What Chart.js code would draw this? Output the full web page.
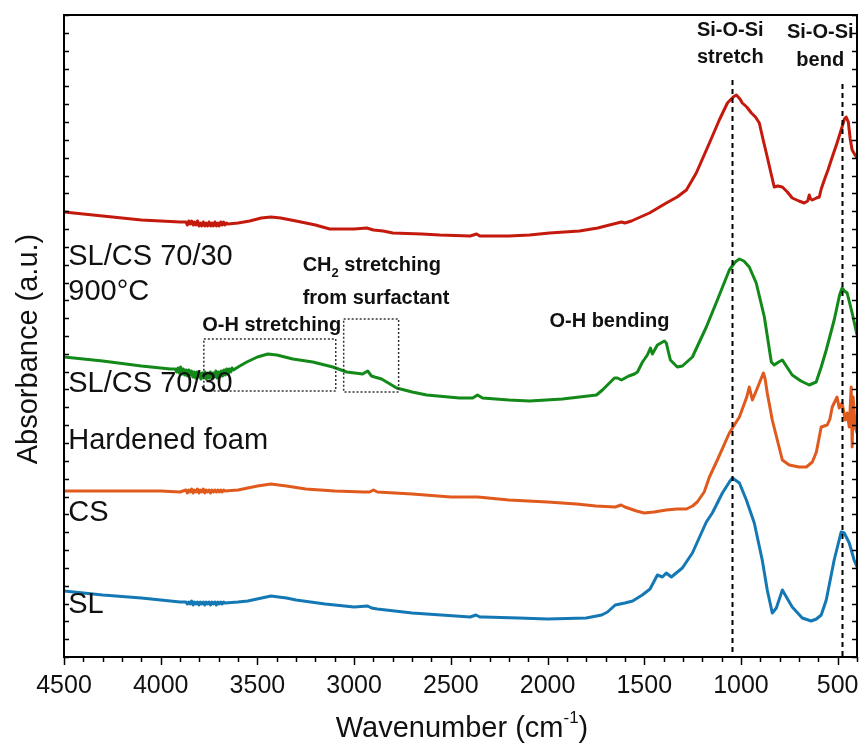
<!DOCTYPE html>
<html>
<head>
<meta charset="utf-8">
<script src="https://cdn.jsdelivr.net/npm/chart.js@4.4.1/dist/chart.umd.min.js"></script>
<style>
  html, body { margin: 0; padding: 0; background: #fff; }
  #wrap { width: 859px; height: 745px; }
</style>
</head>
<body>
<div id="wrap"><canvas id="ftir"></canvas></div>
<script>
// FTIR spectra, offset for display: [wavenumber cm-1, absorbance a.u.]
const sl900 = [
  [4500,445],[4300,441],[4100,437],[3900,435],
  [3870,435],[3862,432],[3855,436],[3848,433],[3840,436],[3832,432],[3825,435],[3818,432],
  [3810,436],[3802,431],[3795,434],[3788,431],[3780,435],[3772,431],[3765,434],[3758,431],
  [3750,435],[3742,431],[3735,434],[3728,431],[3720,435],[3712,431],[3705,434],[3698,431],
  [3690,435],[3682,432],[3675,435],[3668,432],[3660,434],[3652,433],
  [3600,434],[3540,436],[3480,439],[3430,440],[3380,439],[3300,436],[3200,432],[3126,428],
  [3000,428],[2935,429],[2900,427],[2850,426],[2800,424],[2650,423],[2558,422],[2400,421],
  [2367,423],[2350,421],[2200,421],[2093,422],[1990,424],[1835,426],[1740,429],[1680,432],
  [1618,435],[1600,434],[1566,436],[1520,440],[1473,444],[1386,454],[1330,460],[1282,467],
  [1231,484],[1163,514],[1112,537],[1070,554],[1040,560],[1024,562],[1005,558],[993,554],
  [970,550],[946,544],[925,540],[905,534],[885,517],[864,500],[845,484],[828,470],[810,471],
  [786,470],[760,465],[735,459],[700,456],[673,454],[655,456],[647,462],[640,458],[631,457],
  [610,459],[595,460],[585,468],[569,477],[550,487],[528,500],[505,513],[482,527],[465,538],
  [456,540],[445,535],[435,518],[425,507],[410,502],[400,499]
];
const foam = [
  [4500,300],[4300,296],[4100,291],[3950,288],
  [3925,288],[3918,285],[3911,289],[3904,284],[3897,290],[3890,283],[3883,288],[3876,282],
  [3869,287],[3862,281],[3855,287],[3848,282],[3841,286],[3834,280],[3827,285],[3820,279],
  [3813,285],[3806,280],[3799,284],[3792,278],[3785,284],[3778,279],[3771,285],[3764,278],
  [3757,284],[3750,279],[3743,285],[3736,279],[3729,284],[3722,280],[3715,286],[3708,279],
  [3701,285],[3694,280],[3687,286],[3680,281],[3673,287],[3666,282],[3659,288],[3652,283],
  [3645,288],[3638,285],[3631,289],[3624,287],
  [3600,290],[3555,295],[3500,300],[3446,303],[3400,302],[3317,298],[3214,295],[3110,290],
  [3038,285],[2956,283],[2930,286],[2910,281],[2894,280],[2858,278],[2780,269],[2700,265],
  [2625,262],[2455,259],[2387,259],[2362,262],[2336,259],[2200,257],[2093,256],[1923,258],
  [1747,262],[1716,267],[1654,279],[1639,279],[1618,277],[1580,281],[1551,283],[1535,285],
  [1509,295],[1484,302],[1468,309],[1458,303],[1432,312],[1396,316],[1386,314],[1365,297],
  [1329,290],[1303,291],[1251,300],[1179,330],[1122,357],[1060,387],[1030,395],[1008,398],
  [985,396],[957,390],[921,374],[879,340],[843,295],[828,292],[805,295],[786,297],[735,282],
  [690,276],[647,272],[611,275],[585,290],[559,307],[518,337],[490,362],[477,369],[465,366],
  [451,364],[425,344],[400,322]
];
const cs = [
  [4500,166],[4300,166],[4000,166],[3900,165],
  [3870,167],[3862,164],[3855,167],[3848,165],[3840,168],[3832,164],[3825,167],[3818,165],
  [3810,168],[3802,164],[3795,167],[3788,165],[3780,168],[3772,164],[3765,167],[3758,165],
  [3750,167],[3742,164],[3735,167],[3728,165],[3720,167],[3712,165],[3705,167],[3698,165],
  [3690,167],[3682,165],[3675,167],[3668,166],
  [3600,167],[3500,171],[3430,173],[3350,171],[3250,168],[3100,166],[2950,165],[2920,165],
  [2900,167],[2880,165],[2700,163],[2500,160],[2360,160],[2200,157],[2000,155],[1850,153],
  [1750,151],[1650,150],[1620,152],[1600,150],[1540,146],[1500,144],[1450,145],[1386,147],
  [1330,148],[1282,148],[1250,151],[1226,155],[1190,165],[1163,180],[1122,197],[1060,224],
  [1008,240],[970,260],[957,270],[941,257],[930,262],[915,269],[884,284],[875,278],[864,264],
  [838,237],[786,197],[750,192],[700,190],[662,190],[631,195],[610,205],[585,230],[554,232],
  [540,238],[528,250],[503,260],[492,249],[477,254],[461,237],[451,244],[440,230],[430,270],
  [425,210],[420,260],[415,247],[410,230],[400,224]
];
const sl = [
  [4500,66],[4300,62],[4100,59],[3900,55],
  [3870,55],[3862,53],[3855,55],[3848,53],[3840,56],[3832,52],[3825,55],[3818,53],[3810,55],
  [3802,52],[3795,55],[3788,53],[3780,55],[3772,52],[3765,55],[3758,53],[3750,55],[3742,52],
  [3735,55],[3728,53],[3720,55],[3712,52],[3705,55],[3698,53],[3690,55],[3682,53],[3675,55],
  [3668,54],
  [3600,55],[3550,56],[3430,61],[3350,59],[3300,57],[3150,53],[3000,50],[2930,51],[2910,49],
  [2880,48],[2700,44],[2550,42],[2400,40],[2370,42],[2350,40],[2330,40],[2150,39],[2000,38],
  [1800,39],[1720,42],[1690,45],[1650,52],[1600,54],[1560,56],[1510,62],[1470,68],[1432,82],
  [1406,80],[1386,84],[1360,80],[1303,89],[1251,104],[1179,135],[1148,144],[1096,164],
  [1060,175],[1044,179],[1008,174],[972,157],[931,134],[890,97],[864,67],[838,44],[817,49],
  [786,67],[735,50],[683,39],[637,36],[610,38],[585,42],[559,57],[518,97],[482,125],[466,124],
  [440,114],[415,97],[400,90]
];

const seriesColors = ["#c41a0e", "#13891a", "#e05a1e", "#1478b4"];
const xTickValues = [4500, 4000, 3500, 3000, 2500, 2000, 1500, 1000, 500];

// sample names at the left: [text, y]
const sampleLabels = [
  ["SL/CS 70/30", 400], ["900\u00b0C", 365],
  ["SL/CS 70/30", 273], ["Hardened foam", 216],
  ["CS", 144], ["SL", 52],
];
// band assignments: [text, wavenumber, y, align]
const bandLabels = [
  ["O-H stretching", 3426, 332, "center"],
  ["from surfactant", 3266, 359, "left"],
  ["O-H bending", 1680, 336, "center"],
  ["Si-O-Si", 1055, 627, "center"], ["stretch", 1055, 600, "center"],
  ["Si-O-Si", 590, 625, "center"], ["bend", 590, 597, "center"],
];
// dashed marker lines: [wavenumber, top]
const peakLines = [[1046, 577], [478, 573]];
// dotted boxes: [wn left, wn right, y top, y bottom]
const regionBoxes = [[3777, 3095, 318, 266], [3054, 2770, 338, 265]];

const FONT = '"Liberation Sans", Arial, sans-serif';

function toXY(arr) { return arr.map(([x, y]) => ({ x, y })); }

const annotate = {
  id: "annotate",
  afterDatasetsDraw(chart) {
    const { ctx, chartArea: a, scales: { x, y } } = chart;
    ctx.save();
    ctx.strokeStyle = "#000";
    ctx.lineWidth = 2;
    ctx.setLineDash([5, 4]);
    peakLines.forEach(([wn, top]) => {
      const px = Math.round(x.getPixelForValue(wn)) + 0.5;
      ctx.beginPath();
      ctx.moveTo(px, y.getPixelForValue(top));
      ctx.lineTo(px, a.bottom);
      ctx.stroke();
    });
    ctx.lineWidth = 1.5;
    ctx.strokeStyle = "#333";
    ctx.setLineDash([2, 2]);
    regionBoxes.forEach(([w1, w2, t, b]) => {
      const x1 = x.getPixelForValue(w1), x2 = x.getPixelForValue(w2);
      const y1 = y.getPixelForValue(t), y2 = y.getPixelForValue(b);
      ctx.strokeRect(x1, y1, x2 - x1, y2 - y1);
    });
    ctx.setLineDash([]);

    // keep labels inside the frame, like the original clip
    ctx.beginPath();
    ctx.rect(a.left, 0, a.right - a.left, a.bottom);
    ctx.clip();
    ctx.fillStyle = "#111";
    ctx.textBaseline = "middle";
    ctx.font = "29px " + FONT;
    ctx.textAlign = "left";
    sampleLabels.forEach(([t, v]) => ctx.fillText(t, x.getPixelForValue(4478), y.getPixelForValue(v)));

    ctx.font = "bold 20px " + FONT;
    bandLabels.forEach(([t, wn, v, al]) => {
      ctx.textAlign = al;
      ctx.fillText(t, x.getPixelForValue(wn), y.getPixelForValue(v));
    });
    // CH2 with subscript
    ctx.textAlign = "left";
    let cx = x.getPixelForValue(3266);
    const cy = y.getPixelForValue(392);
    ctx.fillText("CH", cx, cy);
    cx += ctx.measureText("CH").width;
    ctx.font = "bold 13px " + FONT;
    ctx.fillText("2", cx, cy + 8);
    cx += ctx.measureText("2").width;
    ctx.font = "bold 20px " + FONT;
    ctx.fillText(" stretching", cx, cy);
    ctx.restore();
  },
  afterDraw(chart) {
    const { ctx, chartArea: a, scales: { x, y } } = chart;
    ctx.save();
    ctx.strokeStyle = "#000";
    ctx.lineWidth = 2;
    ctx.strokeRect(a.left, a.top, a.right - a.left, a.bottom - a.top);
    ctx.lineWidth = 1.5;
    // inward y ticks on both sides
    y.ticks.forEach((t) => {
      const py = Math.round(y.getPixelForValue(t.value)) + 0.5;
      ctx.beginPath();
      ctx.moveTo(a.left, py); ctx.lineTo(a.left + 5, py);
      ctx.moveTo(a.right, py); ctx.lineTo(a.right - 5, py);
      ctx.stroke();
    });
    // outward x ticks, every 100
    for (let wn = 4500; wn >= 400; wn -= 100) {
      const px = Math.round(x.getPixelForValue(wn)) + 0.5;
      ctx.beginPath();
      ctx.moveTo(px, a.bottom);
      ctx.lineTo(px, a.bottom + (wn % 500 === 0 ? 8 : 5));
      ctx.stroke();
    }
    // axis titles
    ctx.fillStyle = "#111";
    ctx.textBaseline = "middle";
    const main = "Wavenumber (cm";
    ctx.font = "17px " + FONT;
    const supW = ctx.measureText("-1").width;
    ctx.font = "29px " + FONT;
    const total = ctx.measureText(main).width + supW + ctx.measureText(")").width;
    let tx = 462 - total / 2;
    const ty = 729;
    ctx.textAlign = "left";
    ctx.fillText(main, tx, ty);
    tx += ctx.measureText(main).width;
    ctx.font = "17px " + FONT;
    ctx.fillText("-1", tx, ty - 11);
    tx += supW;
    ctx.font = "29px " + FONT;
    ctx.fillText(")", tx, ty);

    ctx.translate(29, 349);
    ctx.rotate(-Math.PI / 2);
    ctx.textAlign = "center";
    ctx.fillText("Absorbance (a.u.)", 0, 0);
    ctx.restore();
  },
};

const names = ["SL/CS 70/30 900\u00b0C", "SL/CS 70/30 Hardened foam", "CS", "SL"];
const spectra = [sl900, foam, cs, sl];

new Chart(document.getElementById("ftir"), {
  type: "line",
  data: {
    datasets: spectra.map((s, i) => ({
      label: names[i],
      data: toXY(s),
      borderColor: seriesColors[i],
      borderWidth: 3,
      pointRadius: 0,
      tension: 0,
      borderJoinStyle: "round",
    })),
  },
  options: {
    responsive: true,
    maintainAspectRatio: false,
    animation: false,
    devicePixelRatio: 1,
    layout: { padding: { top: 15, right: 2, left: 0, bottom: 0 } },
    plugins: { legend: { display: false }, tooltip: { enabled: false } },
    scales: {
      x: {
        type: "linear",
        reverse: true,
        min: 400,
        max: 4500,
        grid: { display: false, drawTicks: false },
        border: { display: false },
        afterBuildTicks: (s) => { s.ticks = xTickValues.map((v) => ({ value: v })); },
        afterFit: (s) => { s.height = 88; s.paddingLeft = 0; s.paddingRight = 0; },
        ticks: {
          color: "#111",
          font: { family: FONT, size: 25 },
          padding: 14,
          maxRotation: 0,
          autoSkip: false,
          callback: (v) => String(v),
        },
      },
      y: {
        min: 0,
        max: 642,
        grid: { display: false, drawTicks: false },
        border: { display: false },
        ticks: { display: false, stepSize: 642 / 36 },
        afterFit: (s) => { s.width = 64; s.paddingTop = 0; s.paddingBottom = 0; },
      },
    },
  },
  plugins: [annotate],
});
</script>
</body>
</html>
